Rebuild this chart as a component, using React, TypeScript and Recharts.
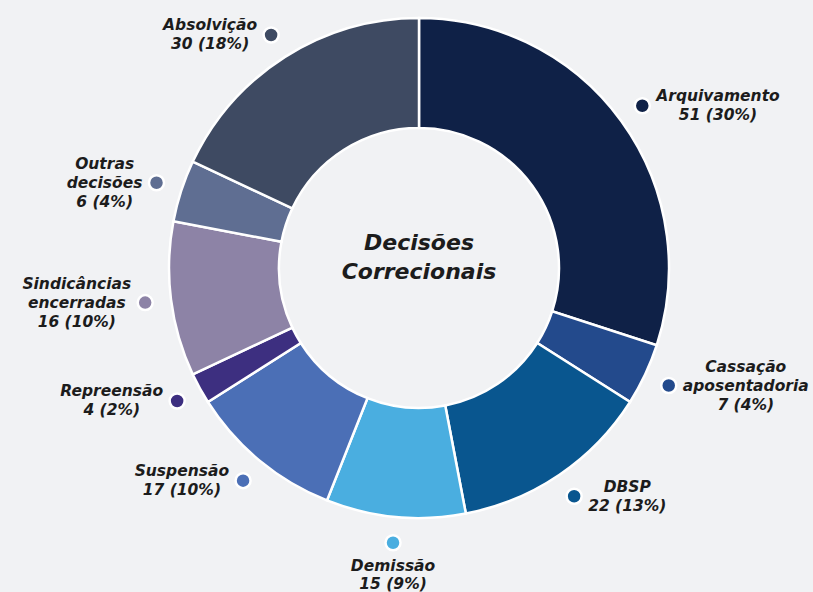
import { PieChart, Pie, Cell } from 'recharts';

const names = [
    'Arquivamento',
    'Cassação\naposentadoria',
    'DBSP',
    'Demissão',
    'Suspensão',
    'Repreensão',
    'Sindicâncias\nencerradas',
    'Outras\ndecisões',
    'Absolvição',
];
const counts = [51, 7, 22, 15, 17, 4, 16, 6, 30];
// slices are drawn from the rounded percentages shown in the labels
const percents = [30, 4, 13, 9, 10, 2, 10, 4, 18];
const colors = [
    '#0f2147',
    '#234a8c',
    '#09568f',
    '#4aaee0',
    '#4b6fb6',
    '#3d2f80',
    '#8d83a6',
    '#5f6e92',
    '#3e4a62',
];

const data = names.map((name, i) => ({ name, value: percents[i], count: counts[i] }));

const RADIAN = Math.PI / 180;
const FONT = "italic bold 15.5px 'DejaVu Sans'";
const LINE_H = 19;

let ctx: CanvasRenderingContext2D | null = null;
const measure = (s: string) => {
    if (!ctx) ctx = document.createElement('canvas').getContext('2d');
    if (!ctx) return s.length * 9;
    ctx.font = FONT;
    return ctx.measureText(s).width;
};

const renderLabel = (props: any) => {
    const { cx, cy, midAngle, outerRadius, index } = props;
    const r = outerRadius + 26;
    const x = cx + r * Math.cos(-midAngle * RADIAN);
    const y = cy + r * Math.sin(-midAngle * RADIAN);
    const lines = [...names[index].split('\n'), `${counts[index]} (${percents[index]}%)`];
    const maxW = Math.max(...lines.map(measure));
    const below = Math.abs(x - cx) < 60 && y > cy;
    let tx = x;
    let ty = y - ((lines.length - 1) * LINE_H) / 2;
    if (below) {
        ty = y + 23;
    } else if (x > cx) {
        tx = x + 14 + maxW / 2;
    } else {
        tx = x - 14 - maxW / 2;
    }
    return (
        <g key={`lbl-${index}`}>
            <circle cx={x} cy={y} r={7.5} fill={colors[index]} stroke="#ffffff" strokeWidth={2.5} />
            <text
                x={tx}
                y={ty}
                textAnchor="middle"
                dominantBaseline="central"
                fill="#1c1c1c"
                style={{ font: FONT }}
            >
                {lines.map((l, i) => (
                    <tspan key={i} x={tx} dy={i === 0 ? 0 : below ? 18 : LINE_H}>
                        {l}
                    </tspan>
                ))}
            </text>
        </g>
    );
};

const App = () => {
    return (
        <div
            style={{
                position: 'fixed',
                left: 0,
                top: 0,
                width: 813,
                height: 592,
                background: '#f1f2f4',
            }}
        >
            <PieChart width={813} height={592} margin={{ top: 0, right: 0, bottom: 0, left: 0 }}>
                <Pie
                    data={data}
                    dataKey="value"
                    nameKey="name"
                    cx={419}
                    cy={268}
                    innerRadius={140}
                    outerRadius={250}
                    startAngle={90}
                    endAngle={-270}
                    stroke="#ffffff"
                    strokeWidth={2.5}
                    label={renderLabel}
                    labelLine={false}
                    isAnimationActive={false}
                >
                    {data.map((d, i) => (
                        <Cell key={d.name} fill={colors[i]} />
                    ))}
                </Pie>
            </PieChart>
            <div
                style={{
                    position: 'absolute',
                    left: 309,
                    top: 228,
                    width: 220,
                    textAlign: 'center',
                    fontFamily: "'DejaVu Sans'",
                    fontStyle: 'italic',
                    fontWeight: 'bold',
                    fontSize: 22,
                    lineHeight: '29px',
                    color: '#1c1c1c',
                }}
            >
                Decisões
                <br />
                Correcionais
            </div>
        </div>
    );
};

export default App;
